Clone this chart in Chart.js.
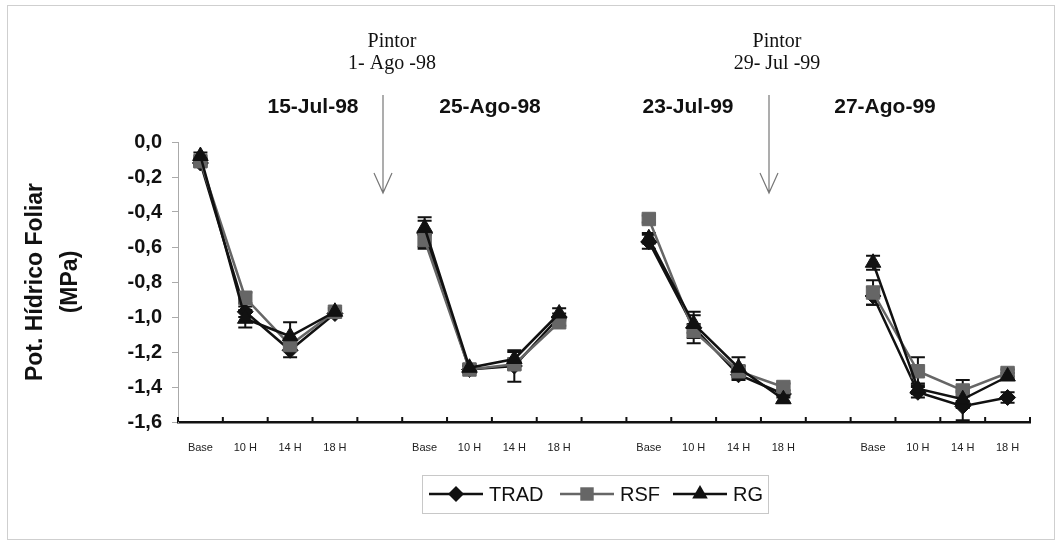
<!DOCTYPE html>
<html>
<head>
<meta charset="utf-8">
<script src="https://cdn.jsdelivr.net/npm/chart.js@4.4.0/dist/chart.umd.min.js"></script>
<style>
  html, body { margin: 0; padding: 0; background: #fff; }
  #wrap { position: relative; width: 1062px; height: 546px; }
</style>
</head>
<body>
<div id="wrap"><canvas id="chart" width="1062" height="546"></canvas></div>
<script>
// categories: four sampling days, each with four hours, blank slot between days
const hours = ['Base', '10 H', '14 H', '18 H'];
const labels = [...hours, '', ...hours, '', ...hours, '', ...hours];
const dates = ['15-Jul-98', '25-Ago-98', '23-Jul-99', '27-Ago-99'];
const veraison = [['Pintor', '1- Ago -98'], ['Pintor', '29- Jul -99']];

// leaf water potential (MPa)
const trad = [-0.12, -0.97, -1.19, -0.98, null, -0.52, -1.30, -1.28, -1.00, null, -0.57, -1.06, -1.33, -1.44, null, -0.88, -1.43, -1.51, -1.46];
const rsf  = [-0.11, -0.89, -1.16, -0.97, null, -0.56, -1.30, -1.27, -1.03, null, -0.44, -1.08, -1.31, -1.40, null, -0.86, -1.31, -1.42, -1.32];
const rg   = [-0.08, -1.01, -1.11, -0.97, null, -0.49, -1.29, -1.24, -0.98, null, -0.55, -1.04, -1.29, -1.47, null, -0.69, -1.41, -1.47, -1.34];

// error bars (+/-)
const tradErr = [0.02, 0.03, 0.04, 0.02, null, 0.09, 0.02, 0.09, 0.02, null, 0.04, 0.09, 0.03, 0.02, null, 0.05, 0.03, 0.08, 0.03];
const rsfErr  = [0.02, 0.03, 0.03, 0.02, null, 0.04, 0.02, 0.03, 0.02, null, 0.02, 0.04, 0.03, 0.02, null, 0.07, 0.08, 0.06, 0.02];
const rgErr   = [0.02, 0.05, 0.08, 0.02, null, 0.04, 0.02, 0.04, 0.03, null, 0.03, 0.05, 0.06, 0.02, null, 0.04, 0.03, 0.05, 0.02];

const SANS = '"Liberation Sans", Arial, sans-serif';
const SERIF = '"Liberation Serif", "Times New Roman", serif';

function series(label, data, err, color, style, radius, order) {
    return {
        label, data, err, order,
        borderColor: color,
        backgroundColor: color,
        borderWidth: 2.5,
        pointStyle: style,
        pointRadius: radius,
        pointBackgroundColor: color,
        pointBorderColor: color,
        pointBorderWidth: 1,
        spanGaps: false,
        tension: 0
    };
}

const errorBars = {
    id: 'errorBars',
    beforeDatasetsDraw(chart) {
        const {ctx, scales: {y}} = chart;
        ctx.save();
        ctx.strokeStyle = '#111';
        ctx.lineWidth = 2;
        chart.data.datasets.forEach((ds, i) => {
            const meta = chart.getDatasetMeta(i);
            ds.data.forEach((v, j) => {
                const e = ds.err[j];
                if (v === null || !e) return;
                const x = meta.data[j].x;
                const y1 = y.getPixelForValue(v + e);
                const y2 = y.getPixelForValue(v - e);
                ctx.beginPath();
                ctx.moveTo(x, y1); ctx.lineTo(x, y2);
                ctx.moveTo(x - 7, y1); ctx.lineTo(x + 7, y1);
                ctx.moveTo(x - 7, y2); ctx.lineTo(x + 7, y2);
                ctx.stroke();
            });
        });
        ctx.restore();
    }
};

function marker(ctx, style, x, y, r, color) {
    ctx.fillStyle = color;
    ctx.beginPath();
    if (style === 'rect') {
        const s = r * Math.SQRT1_2;
        ctx.rect(x - s, y - s, 2 * s, 2 * s);
    } else if (style === 'rectRot') {
        ctx.moveTo(x, y - r); ctx.lineTo(x + r, y); ctx.lineTo(x, y + r); ctx.lineTo(x - r, y);
        ctx.closePath();
    } else {
        ctx.moveTo(x, y - r);
        ctx.lineTo(x + r * Math.sin(2 * Math.PI / 3), y - r * Math.cos(2 * Math.PI / 3));
        ctx.lineTo(x - r * Math.sin(2 * Math.PI / 3), y - r * Math.cos(2 * Math.PI / 3));
        ctx.closePath();
    }
    ctx.fill();
}

const decorations = {
    id: 'decorations',
    afterDraw(chart) {
        const {ctx, chartArea: a, scales: {x}} = chart;
        ctx.save();

        // outer frame
        ctx.strokeStyle = '#cfcfcf';
        ctx.lineWidth = 1;
        ctx.strokeRect(7.5, 5.5, 1047, 534);

        // x tick marks pointing up, at slot boundaries
        const half = (x.getPixelForValue(1) - x.getPixelForValue(0)) / 2;
        ctx.strokeStyle = '#111';
        ctx.lineWidth = 2;
        ctx.beginPath();
        for (let i = 0; i <= labels.length; i++) {
            const px = x.getPixelForValue(i) - half;
            ctx.moveTo(px, a.bottom);
            ctx.lineTo(px, a.bottom - 5);
        }
        ctx.stroke();

        // y-axis title
        ctx.fillStyle = '#111';
        ctx.font = 'bold 23px ' + SANS;
        ctx.textAlign = 'center';
        ctx.textBaseline = 'middle';
        ctx.save();
        ctx.translate(36, 282);
        ctx.rotate(-Math.PI / 2);
        ctx.fillText('Pot. Hídrico Foliar', 0, 0);
        ctx.restore();
        ctx.save();
        ctx.translate(71, 282);
        ctx.rotate(-Math.PI / 2);
        ctx.fillText('(MPa)', 0, 0);
        ctx.restore();

        // sampling dates
        ctx.font = 'bold 21px ' + SANS;
        const dateX = [313, 490, 688, 885];
        dates.forEach((d, i) => ctx.fillText(d, dateX[i], 107));

        // veraison notes with arrows
        ctx.font = '20px ' + SERIF;
        const noteX = [392, 777];
        const arrowX = [383, 769];
        veraison.forEach((lines, i) => {
            ctx.fillStyle = '#111';
            ctx.fillText(lines[0], noteX[i], 42);
            ctx.fillText(lines[1], noteX[i], 64);
            ctx.strokeStyle = '#777';
            ctx.lineWidth = 1.2;
            ctx.beginPath();
            ctx.moveTo(arrowX[i], 95);
            ctx.lineTo(arrowX[i], 193);
            ctx.moveTo(arrowX[i] - 9, 173);
            ctx.lineTo(arrowX[i], 193);
            ctx.lineTo(arrowX[i] + 9, 173);
            ctx.stroke();
        });

        // legend
        ctx.strokeStyle = '#c8c8c8';
        ctx.lineWidth = 1;
        ctx.strokeRect(422.5, 475.5, 346, 38);
        const ly = 494;
        const lx = [429, 560, 673];
        ctx.font = '20px ' + SANS;
        ctx.textAlign = 'left';
        chart.data.datasets.forEach((ds, i) => {
            ctx.strokeStyle = ds.borderColor;
            ctx.lineWidth = 2.5;
            ctx.beginPath();
            ctx.moveTo(lx[i], ly);
            ctx.lineTo(lx[i] + 54, ly);
            ctx.stroke();
            marker(ctx, ds.pointStyle, lx[i] + 27, ly, ds.pointRadius, ds.borderColor);
            ctx.fillStyle = '#111';
            ctx.fillText(ds.label, lx[i] + 60, ly + 1);
        });

        ctx.restore();
    }
};

new Chart(document.getElementById('chart'), {
    type: 'line',
    data: {
        labels,
        datasets: [
            series('TRAD', trad, tradErr, '#111111', 'rectRot', 8, 2),
            series('RSF', rsf, rsfErr, '#666666', 'rect', 9.5, 1),
            series('RG', rg, rgErr, '#111111', 'triangle', 9, 0)
        ]
    },
    options: {
        responsive: false,
        devicePixelRatio: 1,
        animation: false,
        layout: {padding: {left: 0, top: 142, right: 32, bottom: 84}},
        plugins: {legend: {display: false}, tooltip: {enabled: false}},
        scales: {
            x: {
                offset: true,
                afterFit: s => { s.height = 40; },
                grid: {display: false, drawTicks: false, tickLength: 0},
                border: {display: true, color: '#111', width: 2.5},
                ticks: {
                    autoSkip: false, maxRotation: 0, padding: 19,
                    color: '#222', font: {family: SANS, size: 11}
                }
            },
            y: {
                min: -1.6, max: 0,
                afterFit: s => { s.width = 178; },
                grid: {drawOnChartArea: false, tickLength: 6, color: '#aaa'},
                border: {display: true, color: '#aaa', width: 1},
                ticks: {
                    stepSize: 0.2, padding: 10, color: '#111',
                    font: {family: SANS, size: 20, weight: 'bold'},
                    callback: v => (Math.round(v * 10) / 10).toFixed(1).replace('-0.0', '0.0').replace('.', ',')
                }
            }
        }
    },
    plugins: [errorBars, decorations]
});
</script>
</body>
</html>
